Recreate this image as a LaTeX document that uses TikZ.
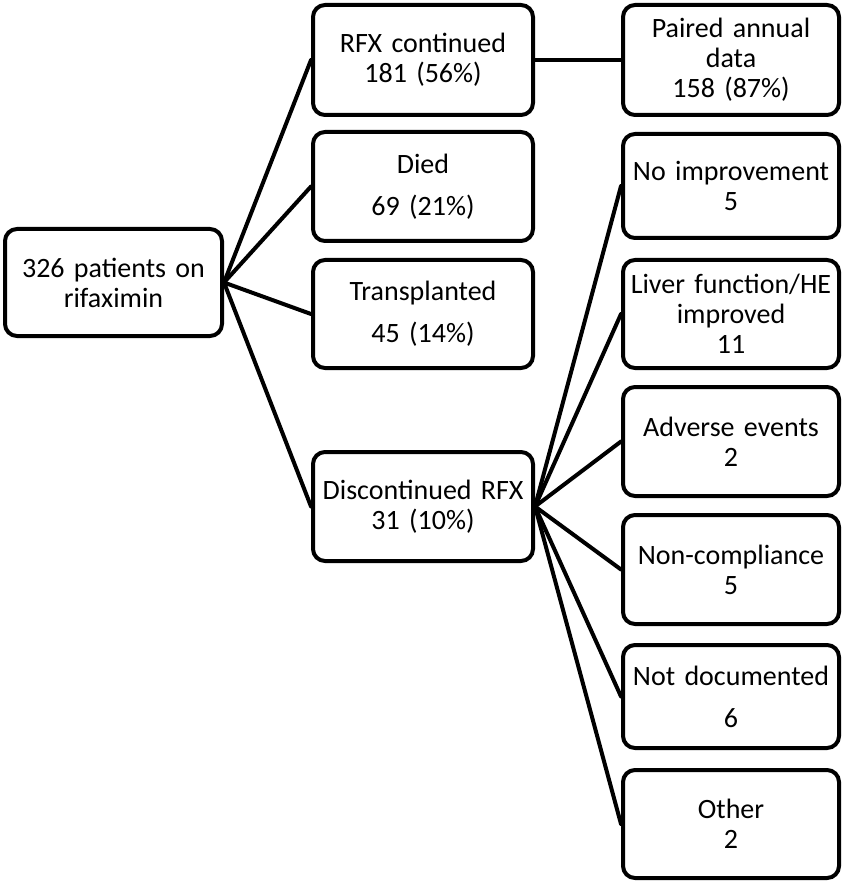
\documentclass[tikz,border=0pt]{standalone}
\usepackage{fontspec}
\setmainfont{Carlito}
\begin{document}
\begin{tikzpicture}[x=1pt,y=-1pt,
  box/.style={draw=black, line width=4pt, rounded corners=12pt, fill=white,
    inner sep=0pt, align=center, text width=216pt,
    font=\fontsize{28}{30}\selectfont},
  link/.style={line width=4pt, line cap=round}]
\useasboundingbox (0,0) rectangle (843,882);
% nodes
\node[box, minimum width=217pt, minimum height=107pt] (root) at (113.5,282.5) {326 patients on\\rifaximin};
\node[box, minimum width=220pt, minimum height=110pt] (cont) at (423,60) {RFX continued\\181 (56\%)};
\node[box, minimum width=220pt, minimum height=109pt] (died) at (423,186.5) {Died\\[12pt]69 (21\%)};
\node[box, minimum width=220pt, minimum height=108pt] (trans) at (423,314) {Transplanted\\[12pt]45 (14\%)};
\node[box, minimum width=220pt, minimum height=109pt] (disc) at (423,506.5) {Discontinued RFX\\31 (10\%)};
\node[box, minimum width=216pt, minimum height=110pt] (paired) at (731,60) {Paired annual\\data\\158 (87\%)};
\node[box, minimum width=216pt, minimum height=104pt] (noimp) at (731,186) {No improvement\\5};
\node[box, minimum width=216pt, minimum height=108pt] (liver) at (731,314) {Liver function/HE\\improved\\11};
\node[box, minimum width=216pt, minimum height=109pt] (adv) at (731,441.5) {Adverse events\\2};
\node[box, minimum width=216pt, minimum height=109pt] (noncomp) at (731,569.5) {Non-compliance\\5};
\node[box, minimum width=216pt, minimum height=103pt] (notdoc) at (731,696.5) {Not documented\\[12pt]6};
\node[box, minimum width=216pt, minimum height=108pt] (other) at (731,824) {Other\\2};
% connectors
\begin{scope}[on background layer/.style={}]
\foreach \t in {cont,died,trans,disc}
  \draw[link] (root.east) -- (\t.west);
\draw[link] (cont.east) -- (paired.west);
\foreach \t in {noimp,liver,adv,noncomp,notdoc,other}
  \draw[link] (disc.east) -- (\t.west);
\end{scope}
\end{tikzpicture}
\end{document}
